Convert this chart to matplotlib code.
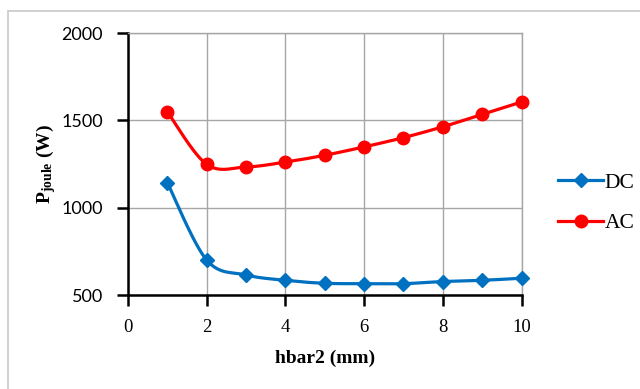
import numpy as np
import matplotlib
matplotlib.use("Agg")
import matplotlib.pyplot as plt
from matplotlib.lines import Line2D
from matplotlib.patches import Rectangle

plt.rcParams['mathtext.fontset'] = 'custom'
plt.rcParams['mathtext.rm'] = 'Liberation Serif:bold'
plt.rcParams['mathtext.bf'] = 'Liberation Serif:bold'
plt.rcParams['mathtext.it'] = 'Liberation Serif:bold'

hbar2 = [1, 2, 3, 4, 5, 6, 7, 8, 9, 10]
dc_values = [1143, 700, 615, 584, 567, 565, 565, 577, 584, 596]
ac_values = [1549, 1248, 1233, 1261, 1300, 1348, 1401, 1463, 1534, 1605]
series_names = ["DC", "AC"]
x_ticks = [0, 2, 4, 6, 8, 10]
y_ticks = [500, 1000, 1500, 2000]

def smooth(xs, ys, n=30):
    xs = np.asarray(xs, float); ys = np.asarray(ys, float)
    P = np.column_stack([xs, ys])
    out = []
    m = len(P)
    for i in range(m - 1):
        p0 = P[i - 1] if i > 0 else P[i]
        p1 = P[i]; p2 = P[i + 1]
        p3 = P[i + 2] if i + 2 < m else P[i + 1]
        c1 = p1 + (p2 - p0) / 6.0
        c2 = p2 - (p3 - p1) / 6.0
        t = np.linspace(0, 1, n)[:, None]
        seg = (1 - t) ** 3 * p1 + 3 * (1 - t) ** 2 * t * c1 + 3 * (1 - t) * t ** 2 * c2 + t ** 3 * p2
        out.append(seg if i == 0 else seg[1:])
    c = np.vstack(out)
    return c[:, 0], c[:, 1]

fig = plt.figure(figsize=(6.4, 3.89), dpi=100)
fig.patches.append(Rectangle((7.5 / 640, -0.1), 1.2, 1.1 - 11 / 389, transform=fig.transFigure,
                             fill=False, edgecolor='#c8c8c8', linewidth=1.2))
ax = fig.add_axes([128 / 640, 1 - 295 / 389, (521.5 - 128) / 640, (295 - 33) / 389])

colors = {"DC": "#0070C0", "AC": "#FF0000"}
markers = {"DC": "D", "AC": "o"}
msizes = {"DC": 7, "AC": 9}
handles = []
for name, vals in zip(series_names, [dc_values, ac_values]):
    sx, sy = smooth(hbar2, vals)
    ax.plot(sx, sy, color=colors[name], lw=2.3, zorder=3, solid_capstyle='round', clip_on=False)
    ax.plot(hbar2, vals, ls='none', marker=markers[name], ms=msizes[name],
            color=colors[name], zorder=4, clip_on=False)
    handles.append(Line2D([], [], color=colors[name], lw=2.3, marker=markers[name],
                          ms=msizes[name], label=name))

ax.set_xlim(0, 10)
ax.set_ylim(500, 2000)
ax.set_xticks(x_ticks)
ax.set_yticks(y_ticks)
ax.grid(True, color='#a6a6a6', lw=1.0)
ax.set_axisbelow(True)
for s in ['top', 'right']:
    ax.spines[s].set_color('#a6a6a6')
    ax.spines[s].set_linewidth(1.0)
for s in ['left', 'bottom']:
    ax.spines[s].set_linewidth(1.8)
    ax.spines[s].set_color('black')
    ax.spines[s].set_zorder(2.5)
ax.tick_params(axis='both', direction='out', length=8, width=1.8, color='black')
ax.tick_params(axis='x', labelsize=13.5, pad=9)
ax.tick_params(axis='y', labelsize=13, pad=10)
for lab in ax.get_xticklabels():
    lab.set_fontfamily('Liberation Serif')
for lab in ax.get_yticklabels():
    lab.set_fontfamily('Lato')

ax.set_xlabel("hbar2 (mm)", fontsize=14, fontweight='bold', family='Liberation Serif', labelpad=10)
ax.set_ylabel(r"$\mathrm{P_{joule}}$ (W)", fontsize=14, fontweight='bold', family='Liberation Serif')
ax.yaxis.set_label_coords(-(128 - 58) / 393.5, 0.5)

fig.legend(handles=handles, loc='center left', bbox_to_anchor=(558 / 640, 1 - 203 / 389),
           frameon=False, handlelength=2.1, handletextpad=0.05, borderpad=0, borderaxespad=0,
           labelspacing=0.95, prop={'family': 'Liberation Serif', 'size': 15.5})

fig.savefig("out.png", dpi=100)
